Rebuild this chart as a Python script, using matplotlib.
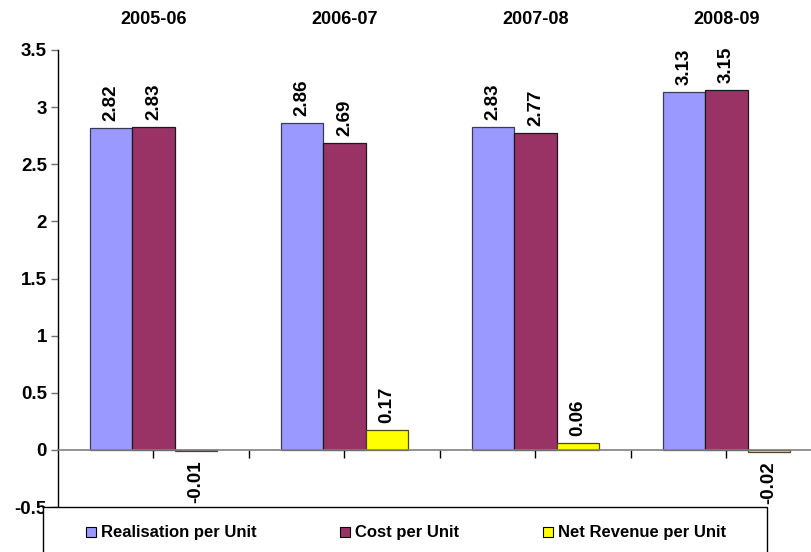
import numpy as np
import matplotlib
matplotlib.use('Agg')
from matplotlib import pyplot as plt
from matplotlib.patches import Rectangle

# Per unit figures by year
years = ['2005-06', '2006-07', '2007-08', '2008-09']
realisation = [2.82, 2.86, 2.83, 3.13]
cost = [2.83, 2.69, 2.77, 3.15]
net_revenue = [-0.01, 0.17, 0.06, -0.02]

series_names = ['Realisation per Unit', 'Cost per Unit', 'Net Revenue per Unit']
colors = ['#9999FF', '#993366', '#FFFF00']
edges = ['#3a3a5a', '#1a1a1a', '#4a4a20']

plt.rcParams['font.family'] = 'Liberation Sans'
plt.rcParams['font.weight'] = 'bold'

W, H = 812, 552
fig = plt.figure(figsize=(W / 100, H / 100), dpi=100)

# axes run past the right edge, like the original sheet export
left, right, top, bottom = 58, 822, 50, 507
ax = fig.add_axes([left / W, 1 - bottom / H, (right - left) / W, (bottom - top) / H])

x = np.arange(len(years))
width = 1 / 4.5
all_series = [realisation, cost, net_revenue]
for i, vals in enumerate(all_series):
    pos = x + (i - 1) * width
    ax.bar(pos, vals, width, color=colors[i], edgecolor=edges[i], linewidth=0.9, zorder=3)
    for xp, v in zip(pos, vals):
        if v >= 0:
            ax.annotate(f'{v:.2f}', (xp, v), xytext=(0, 7), textcoords='offset pixels',
                        rotation=90, ha='center', va='bottom', fontsize=13.5, fontweight='bold')
        else:
            ax.annotate(f'{v:.2f}', (xp, v), xytext=(0, -9), textcoords='offset pixels',
                        rotation=90, ha='center', va='top', fontsize=13.5, fontweight='bold')

ax.set_xlim(-0.5, 3.5)
ax.set_ylim(-0.5, 3.5)
yt = np.arange(-0.5, 3.51, 0.5)
ax.set_yticks(yt)
ax.set_yticklabels([f'{t:g}' for t in yt], fontsize=13.5, fontweight='bold')
ax.tick_params(axis='y', length=5, width=1, color='#707070', pad=3)

# category axis sits at zero with ticks at centres and between groups
ax.spines['top'].set_visible(False)
ax.spines['right'].set_visible(False)
ax.spines['bottom'].set_position(('data', 0))
ax.spines['bottom'].set_color('#808080')
ax.spines['bottom'].set_linewidth(1.2)
ax.spines['bottom'].set_zorder(4)
ax.spines['left'].set_linewidth(1)
ax.set_xticks(np.arange(0, 3.01, 0.5))
ax.set_xticklabels([])
ax.tick_params(axis='x', length=6, width=1, color='black')

# year labels along the top
for xi, yr in zip(x, years):
    ax.text(xi, 1.066, yr, transform=ax.get_xaxis_transform(), ha='center', va='center',
            fontsize=13, fontweight='bold')

# legend box, cut off by the lower edge
fig.add_artist(Rectangle((43 / W, -0.05), (767 - 43) / W, 0.05 + 1 - 507 / H,
                         transform=fig.transFigure, facecolor='white', edgecolor='black',
                         linewidth=1, zorder=5))
leg_x = [86, 340, 543]
leg_y = 532
for lx, name, c in zip(leg_x, series_names, colors):
    fig.add_artist(Rectangle((lx / W, 1 - (leg_y + 5) / H), 10 / W, 10 / H,
                             transform=fig.transFigure, facecolor=c, edgecolor='black',
                             linewidth=0.8, zorder=6))
    fig.text((lx + 15) / W, 1 - leg_y / H, name, ha='left', va='center',
             fontsize=12, fontweight='bold', zorder=6)

fig.savefig('out.png', dpi=100)
